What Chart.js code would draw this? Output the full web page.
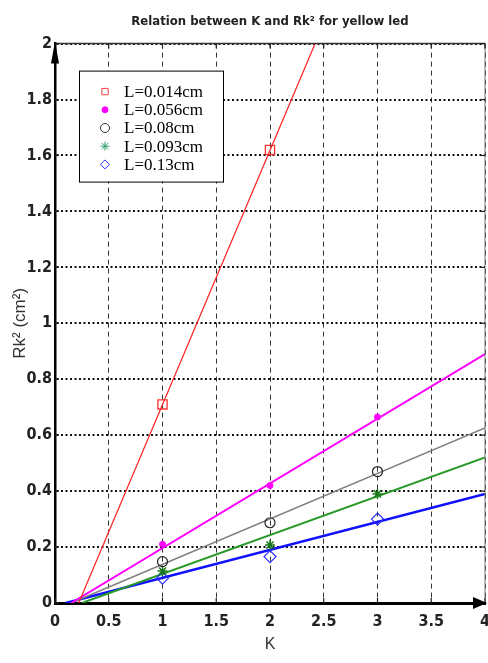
<!DOCTYPE html>
<html><head><meta charset="utf-8">
<script src="https://cdn.jsdelivr.net/npm/chart.js@4.4.0/dist/chart.umd.min.js"></script>
<style>html,body{margin:0;padding:0;background:#fff;}#wrap{width:488px;height:663px;}</style>
</head><body><div id="wrap"><canvas id="c" width="488" height="663"></canvas></div>
<script>
// measured points (K, Rk^2)
const K = [1, 2, 3];
const rkL014 = [0.71, 1.62];
const rkL056 = [0.21, 0.42, 0.665];
const rkL080 = [0.148, 0.287, 0.47];
const rkL093 = [0.114, 0.207, 0.39];
const rkL130 = [0.089, 0.166, 0.30];
// fitted straight lines: [K start, K end] and [Rk^2 start, Rk^2 end]
const fitK014 = [0.22, 2.42], fitRk014 = [0, 2];
const fitK056 = [0.15, 4], fitRk056 = [0, 0.89];
const fitK080 = [0.15, 4], fitRk080 = [0, 0.626];
const fitK093 = [0.25, 4], fitRk093 = [0, 0.52];
const fitK130 = [0.10, 4], fitRk130 = [0, 0.39];
const seriesLabels = ['L=0.014cm', 'L=0.056cm', 'L=0.08cm', 'L=0.093cm', 'L=0.13cm'];
const xTickValues = [0, 0.5, 1, 1.5, 2, 2.5, 3, 3.5, 4];
const yTickValues = [0, 0.2, 0.4, 0.6, 0.8, 1, 1.2, 1.4, 1.6, 1.8, 2];
const xTickLabels = ['0', '0.5', '1', '1.5', '2', '2.5', '3', '3.5', '4'];
const yTickLabels = ['0', '0.2', '0.4', '0.6', '0.8', '1', '1.2', '1.4', '1.6', '1.8', '2'];

const NARROW = "'DejaVu Sans Condensed', 'Liberation Sans Narrow', sans-serif";
const pts = (xs, ys) => xs.slice(0, ys.length).map((x, i) => ({x: x, y: ys[i]}));

const markerStyles = [
  {pointStyle: 'rect', pointRadius: 6.5, borderColor: '#ff3030', backgroundColor: 'rgba(0,0,0,0)', pointBorderWidth: 1.3},
  {pointStyle: 'circle', pointRadius: 3, borderColor: '#ff00ff', backgroundColor: '#ff00ff', pointBorderWidth: 1},
  {pointStyle: 'circle', pointRadius: 5, borderColor: '#222', backgroundColor: 'rgba(0,0,0,0)', pointBorderWidth: 1.2},
  {pointStyle: 'star', pointRadius: 5, borderColor: '#1a7a1a', backgroundColor: '#1a7a1a', pointBorderWidth: 1.5},
  {pointStyle: 'rectRot', pointRadius: 6, borderColor: '#2a2aff', backgroundColor: 'rgba(0,0,0,0)', pointBorderWidth: 1.2}
];
const legendColors = ['#ff4040', '#ff00ff', '#333', '#2e9e6e', '#2a2aff'];
const lineStyles = [
  {color: '#ff2020', width: 1.2},
  {color: '#ff00ff', width: 2},
  {color: '#808080', width: 1.6},
  {color: '#2a9a2a', width: 2},
  {color: '#1010ff', width: 2.5}
];
const markerData = [pts(K, rkL014), pts(K, rkL056), pts(K, rkL080), pts(K, rkL093), pts(K, rkL130)];
const fitData = [pts(fitK014, fitRk014), pts(fitK056, fitRk056), pts(fitK080, fitRk080), pts(fitK093, fitRk093), pts(fitK130, fitRk130)];

const datasets = [];
fitData.forEach((d, i) => datasets.push({
  label: seriesLabels[i] + ' fit', data: d, showLine: true, pointRadius: 0,
  borderColor: lineStyles[i].color, borderWidth: lineStyles[i].width, isFit: true, order: 2
}));
markerData.forEach((d, i) => datasets.push(Object.assign({
  label: seriesLabels[i], data: d, showLine: false, order: 1, legendColor: legendColors[i]
}, markerStyles[i])));

const zeroPad = () => ({left: 0, top: 0, right: 0, bottom: 0});

const decorations = {
  id: 'decorations',
  afterDraw(chart) {
    const {ctx, chartArea: a, scales: {x, y}} = chart;
    ctx.save();
    // top & right frame
    ctx.strokeStyle = '#333'; ctx.lineWidth = 1.5;
    ctx.beginPath(); ctx.moveTo(a.left, a.top); ctx.lineTo(a.right, a.top); ctx.stroke();
    ctx.strokeStyle = '#777'; ctx.lineWidth = 1;
    ctx.beginPath(); ctx.moveTo(a.right, a.top); ctx.lineTo(a.right, a.bottom); ctx.stroke();
    // small tick marks
    ctx.strokeStyle = '#222'; ctx.lineWidth = 1.2;
    x.ticks.forEach(t => {
      const px = x.getPixelForValue(t.value);
      ctx.beginPath(); ctx.moveTo(px, a.top); ctx.lineTo(px, a.top + 5); ctx.stroke();
      ctx.beginPath(); ctx.moveTo(px, a.bottom); ctx.lineTo(px, a.bottom - 5); ctx.stroke();
    });
    y.ticks.forEach(t => {
      const py = y.getPixelForValue(t.value);
      ctx.beginPath(); ctx.moveTo(a.left, py); ctx.lineTo(a.left + 4, py); ctx.stroke();
      ctx.beginPath(); ctx.moveTo(a.right, py); ctx.lineTo(a.right - 5, py); ctx.stroke();
    });
    // arrows
    ctx.fillStyle = '#000';
    ctx.beginPath(); ctx.moveTo(a.left, a.top - 2); ctx.lineTo(a.left - 4, a.top + 20); ctx.lineTo(a.left + 4, a.top + 20); ctx.closePath(); ctx.fill();
    ctx.beginPath(); ctx.moveTo(a.right + 2, a.bottom); ctx.lineTo(a.right - 12, a.bottom - 6); ctx.lineTo(a.right - 12, a.bottom + 6); ctx.closePath(); ctx.fill();
    // legend box
    const bx = a.left + 24, by = a.top + 27, bw = 144, bh = 111;
    ctx.fillStyle = '#fff'; ctx.fillRect(bx, by, bw, bh);
    ctx.strokeStyle = '#000'; ctx.lineWidth = 1; ctx.strokeRect(bx + 0.5, by + 0.5, bw, bh);
    ctx.font = "17px 'Liberation Serif', 'Times New Roman', serif";
    ctx.textBaseline = 'middle'; ctx.textAlign = 'left';
    const markers = chart.data.datasets.filter(d => !d.isFit);
    markers.forEach((d, i) => {
      const cy = by + 21 + i * 18.2;
      const filled = d.backgroundColor !== 'rgba(0,0,0,0)';
      ctx.strokeStyle = d.legendColor; ctx.fillStyle = filled ? d.legendColor : 'rgba(0,0,0,0)';
      ctx.lineWidth = 1;
      Chart.helpers.drawPoint(ctx, {pointStyle: d.pointStyle, radius: Math.min(d.pointRadius, 4.5), borderWidth: 1, rotation: 0}, bx + 26, cy);
      ctx.fillStyle = '#000';
      ctx.fillText(d.label, bx + 45, cy + 1);
    });
    ctx.restore();
  }
};

new Chart(document.getElementById('c'), {
  type: 'scatter',
  data: {datasets: datasets},
  options: {
    responsive: false, animation: false, devicePixelRatio: 1,
    layout: {autoPadding: false, padding: {left: 0, right: 3, top: 0, bottom: 0}},
    plugins: {
      legend: {display: false}, tooltip: {enabled: false},
      title: {display: true, fullSize: false, text: 'Relation between K and Rk² for yellow led', color: '#222',
        font: {family: NARROW, size: 13, weight: 'bold'}, padding: {top: 14, bottom: 14}}
    },
    scales: {
      x: {
        type: 'linear', min: 0, max: 4,
        afterBuildTicks: s => { s.ticks = xTickValues.map(v => ({value: v})); },
        afterFit: s => { s.height = 60; s.paddingLeft = 0; s.paddingRight = 0; s.getPadding = zeroPad; },
        ticks: {callback: (v) => xTickLabels[xTickValues.indexOf(v)], color: '#222', padding: 9, maxRotation: 0,
          font: {family: NARROW, size: 16, weight: 'bold'}},
        grid: {color: '#333', lineWidth: 1, drawTicks: false},
        border: {color: '#000', width: 3, dash: [5, 4]},
        title: {display: true, text: 'K', color: '#333', font: {family: "'Liberation Sans', Arial, sans-serif", size: 16}, padding: {top: 0, bottom: 9}}
      },
      y: {
        type: 'linear', min: 0, max: 2,
        afterBuildTicks: s => { s.ticks = yTickValues.map(v => ({value: v})); },
        afterFit: s => { s.width = 55; s.paddingTop = 0; s.paddingBottom = 0; s.getPadding = zeroPad; },
        ticks: {callback: (v) => yTickLabels[yTickValues.indexOf(v)], color: '#222', padding: 3,
          font: {family: NARROW, size: 16, weight: 'bold'}},
        grid: {color: '#111', lineWidth: 2, drawTicks: false},
        border: {color: '#000', width: 2.5, dash: [2, 2.5]},
        title: {display: true, text: 'Rk² (cm²)', color: '#333', font: {family: "'Liberation Sans', Arial, sans-serif", size: 17}, padding: {top: 10, bottom: 0}}
      }
    }
  },
  plugins: [decorations]
});
</script></body></html>
